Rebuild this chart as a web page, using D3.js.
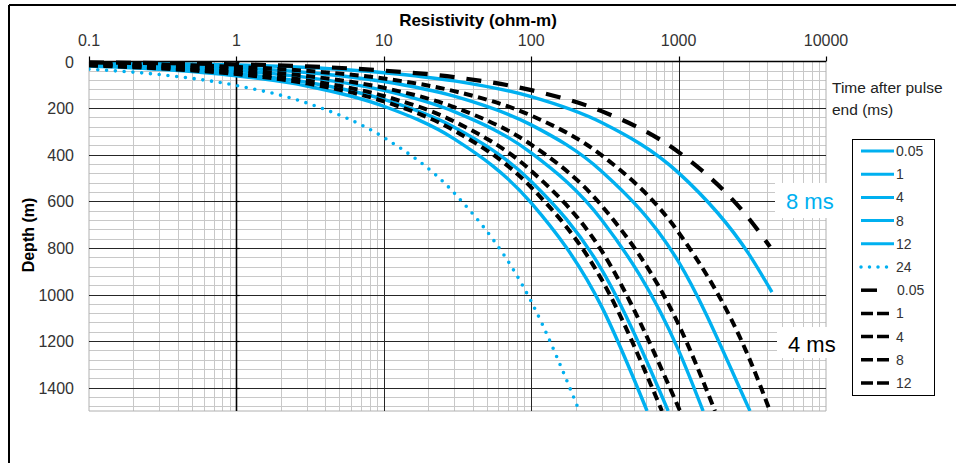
<!DOCTYPE html>
<html>
<head>
<meta charset="utf-8">
<script src="https://cdn.jsdelivr.net/npm/d3@7"></script>
<style>
  html, body { margin: 0; padding: 0; background: #fff; }
  svg { display: block; font-family: "Liberation Sans", Arial, sans-serif; }
</style>
</head>
<body>
<svg id="chart" width="956" height="463"></svg>
<script>
// ---------- data (resistivity in ohm-m, depth in m) ----------
const xTickValues = [0.1, 1, 10, 100, 1000, 10000];
const xTickLabels = ["0.1", "1", "10", "100", "1000", "10000"];
const yTickValues = [0, 200, 400, 600, 800, 1000, 1200, 1400];
const yTickLabels = ["0", "200", "400", "600", "800", "1000", "1200", "1400"];

const resistivity = [0.1, 0.3, 1, 3, 10, 30, 100, 300, 1000, 3000];

// Blue solid series (ms)
const blue005 = [5, 8, 15, 26, 48, 83, 151, 262, 478, 827];
const blue005End = [4300, 990];
const blue1 = [9, 15, 27, 47, 86, 149, 272, 471, 860, 1490];
const blue1End = [3050, 1500];
const blue4 = [12, 21, 39, 68, 124, 215, 392, 679, 1240];
const blue4End = [1466, 1500];
const blue8 = [16, 28, 52, 89, 163, 282, 515, 892];
const blue8End = [850, 1500];
const blue12 = [19, 33, 61, 105, 192, 332, 607, 1051];
const blue12End = [611, 1500];
// Blue dotted
const blue24 = [33, 56, 103, 178, 326, 564, 1030];
const blue24End = [212, 1500];
// Black dashed series
const black005 = [4, 7, 12, 21, 39, 67, 123, 213, 389, 674];
const black005End = [4170, 795];
const black1 = [7, 13, 23, 40, 73, 127, 232, 402, 734, 1271];
const black1End = [4170, 1500];
const black4 = [11, 20, 36, 62, 113, 196, 357, 618, 1129];
const black4End = [1766, 1500];
const black8 = [15, 26, 47, 81, 148, 257, 469, 812];
const black8End = [1023, 1500];
const black12 = [17, 30, 54, 94, 171, 296, 540, 935];
const black12End = [771, 1500];

const BLUE = "#00b0f0";
const series = [
  {label: "0.05", depths: blue005, end: blue005End, kind: "blue"},
  {label: "1", depths: blue1, end: blue1End, kind: "blue"},
  {label: "4", depths: blue4, end: blue4End, kind: "blue"},
  {label: "8", depths: blue8, end: blue8End, kind: "blue"},
  {label: "12", depths: blue12, end: blue12End, kind: "blue"},
  {label: "24", depths: blue24, end: blue24End, kind: "dot"},
  {label: "0.05", depths: black005, end: black005End, kind: "long"},
  {label: "1", depths: black1, end: black1End, kind: "short"},
  {label: "4", depths: black4, end: black4End, kind: "short"},
  {label: "8", depths: black8, end: black8End, kind: "short"},
  {label: "12", depths: black12, end: black12End, kind: "short"}
];
const styles = {
  blue:  {stroke: BLUE, width: 3.4, dash: null, cap: "butt"},
  dot:   {stroke: BLUE, width: 3.6, dash: "0 8.8", cap: "round"},
  long:  {stroke: "#000", width: 4.2, dash: "15 12", cap: "butt"},
  short: {stroke: "#000", width: 4, dash: "9 5.5", cap: "butt"}
};

// ---------- layout ----------
const svg = d3.select("#chart");
const x = d3.scaleLog().domain([0.1, 10000]).range([89, 826]);
const y = d3.scaleLinear().domain([0, 1500]).range([61.5, 411]);

// outer frame (top and left edges visible)
svg.append("line").attr("x1", 9).attr("x2", 956).attr("y1", 5).attr("y2", 5)
  .attr("stroke", "#000").attr("stroke-width", 2);
svg.append("line").attr("x1", 9).attr("x2", 9).attr("y1", 5).attr("y2", 463)
  .attr("stroke", "#000").attr("stroke-width", 2);

const grid = svg.append("g");
// minor vertical gridlines
const minorX = [];
[0.1, 1, 10, 100, 1000].forEach(d => { for (let k = 2; k <= 9; k++) minorX.push(d * k); });
grid.selectAll(".mx").data(minorX).enter().append("line")
  .attr("x1", d => Math.round(x(d)) + 0.5).attr("x2", d => Math.round(x(d)) + 0.5)
  .attr("y1", y(0)).attr("y2", y(1500))
  .attr("stroke", "#c8c8c8").attr("stroke-width", 1);
// minor horizontal gridlines
const minorY = d3.range(40, 1500, 40).filter(v => v % 200 !== 0);
grid.selectAll(".my").data(minorY).enter().append("line")
  .attr("x1", x(0.1)).attr("x2", x(10000))
  .attr("y1", d => Math.round(y(d)) + 0.5).attr("y2", d => Math.round(y(d)) + 0.5)
  .attr("stroke", "#c8c8c8").attr("stroke-width", 1);
// border edges (gray)
grid.append("line").attr("x1", x(0.1)).attr("x2", x(0.1)).attr("y1", y(0)).attr("y2", y(1500))
  .attr("stroke", "#b0b0b0");
grid.append("line").attr("x1", x(10000)).attr("x2", x(10000)).attr("y1", y(0)).attr("y2", y(1500))
  .attr("stroke", "#b0b0b0");
grid.append("line").attr("x1", x(0.1)).attr("x2", x(10000)).attr("y1", y(1500)).attr("y2", y(1500))
  .attr("stroke", "#b0b0b0");
// major vertical gridlines
grid.selectAll(".MX").data([10, 100, 1000]).enter().append("line")
  .attr("x1", d => Math.round(x(d)) + 0.5).attr("x2", d => Math.round(x(d)) + 0.5)
  .attr("y1", y(0)).attr("y2", y(1500))
  .attr("stroke", "#262626").attr("stroke-width", 1);
// major horizontal gridlines
grid.selectAll(".MY").data(yTickValues.filter(v => v > 0)).enter().append("line")
  .attr("x1", x(0.1)).attr("x2", x(10000))
  .attr("y1", d => Math.round(y(d)) + 0.5).attr("y2", d => Math.round(y(d)) + 0.5)
  .attr("stroke", "#262626").attr("stroke-width", 1);

// vertical axis line at resistivity = 1 with small ticks
const xAxisPos = Math.round(x(1)) + 0.5;
grid.append("line").attr("x1", xAxisPos).attr("x2", xAxisPos).attr("y1", y(0)).attr("y2", y(1500))
  .attr("stroke", "#000").attr("stroke-width", 1.6);
grid.selectAll(".yt").data(yTickValues).enter().append("line")
  .attr("x1", xAxisPos).attr("x2", xAxisPos + 3)
  .attr("y1", d => Math.round(y(d)) + 0.5).attr("y2", d => Math.round(y(d)) + 0.5)
  .attr("stroke", "#000").attr("stroke-width", 1.2);

// ---------- curves ----------
svg.append("defs").append("clipPath").attr("id", "plotclip")
  .append("rect").attr("x", x(0.1)).attr("y", y(0) - 6)
  .attr("width", x(10000) - x(0.1)).attr("height", y(1500) - y(0) + 6);

const line = d3.line()
  .x(p => x(p[0])).y(p => y(p[1]))
  .curve(d3.curveMonotoneX);

const curves = svg.append("g").attr("clip-path", "url(#plotclip)");
const drawOrder = [5, 0, 1, 2, 3, 4, 6, 7, 8, 9, 10];
drawOrder.forEach(i => {
  const s = series[i];
  const pts = s.depths.map((d, j) => [resistivity[j], d]);
  pts.push(s.end);
  const st = styles[s.kind];
  curves.append("path")
    .attr("d", line(pts))
    .attr("fill", "none")
    .attr("stroke", st.stroke)
    .attr("stroke-width", st.width)
    .attr("stroke-linecap", st.cap)
    .attr("stroke-dasharray", st.dash);
});

// top axis line and ticks
svg.append("line").attr("x1", x(0.1)).attr("x2", x(10000))
  .attr("y1", y(0)).attr("y2", y(0)).attr("stroke", "#000").attr("stroke-width", 1.5);
svg.selectAll(".xt").data(xTickValues).enter().append("line")
  .attr("x1", d => Math.round(x(d)) + 0.5).attr("x2", d => Math.round(x(d)) + 0.5)
  .attr("y1", y(0)).attr("y2", y(0) - 5)
  .attr("stroke", "#000").attr("stroke-width", 1.2);

// tick labels
svg.selectAll(".xl").data(xTickValues).enter().append("text")
  .attr("x", d => x(d)).attr("y", 46)
  .attr("text-anchor", "middle")
  .attr("font-size", 16).attr("fill", "#333")
  .text((d, i) => xTickLabels[i]);
svg.selectAll(".yl").data(yTickValues).enter().append("text")
  .attr("x", 74).attr("y", d => y(d) + 6)
  .attr("text-anchor", "end")
  .attr("font-size", 16).attr("fill", "#333")
  .text((d, i) => yTickLabels[i]);

// axis titles
svg.append("text").attr("x", 478).attr("y", 26)
  .attr("text-anchor", "middle").attr("font-size", 17).attr("font-weight", "bold")
  .attr("fill", "#000").text("Resistivity (ohm-m)");
svg.append("text").attr("transform", "translate(34,235) rotate(-90)")
  .attr("text-anchor", "middle").attr("font-size", 16).attr("font-weight", "bold")
  .attr("fill", "#000").text("Depth (m)");

// legend title
svg.append("text").attr("x", 832).attr("y", 93).attr("font-size", 15.5).attr("fill", "#222")
  .text("Time after pulse");
svg.append("text").attr("x", 832).attr("y", 115).attr("font-size", 15.5).attr("fill", "#222")
  .text("end (ms)");

// annotations with white backgrounds
svg.append("rect").attr("x", 775).attr("y", 183).attr("width", 67).attr("height", 35).attr("fill", "#fff");
svg.append("text").attr("x", 786).attr("y", 209).attr("font-size", 22).attr("fill", BLUE).text("8 ms");
svg.append("rect").attr("x", 777).attr("y", 327).attr("width", 66).attr("height", 31).attr("fill", "#fff");
svg.append("text").attr("x", 788).attr("y", 352).attr("font-size", 22).attr("fill", "#000").text("4 ms");

// legend
const lg = svg.append("g");
lg.append("rect").attr("x", 852.5).attr("y", 139.5).attr("width", 82).attr("height", 256)
  .attr("fill", "#fff").attr("stroke", "#000").attr("stroke-width", 1);
const legendDash = {blue: null, dot: "0 8.5", long: "16 40", short: "12 4"};
const legendEnd = {blue: 894, dot: 892, long: 877, short: 890};
series.forEach((s, i) => {
  const yy = 151 + i * 23.2;
  const st = styles[s.kind];
  lg.append("line").attr("x1", 861).attr("x2", legendEnd[s.kind])
    .attr("y1", yy).attr("y2", yy)
    .attr("stroke", st.stroke).attr("stroke-width", s.kind === "blue" ? 3 : 3.5)
    .attr("stroke-linecap", st.cap)
    .attr("stroke-dasharray", legendDash[s.kind]);
  lg.append("text").attr("x", s.kind === "long" ? 897 : 896).attr("y", yy + 5)
    .attr("font-size", 14).attr("fill", "#333").text(s.label);
});
</script>
</body>
</html>
